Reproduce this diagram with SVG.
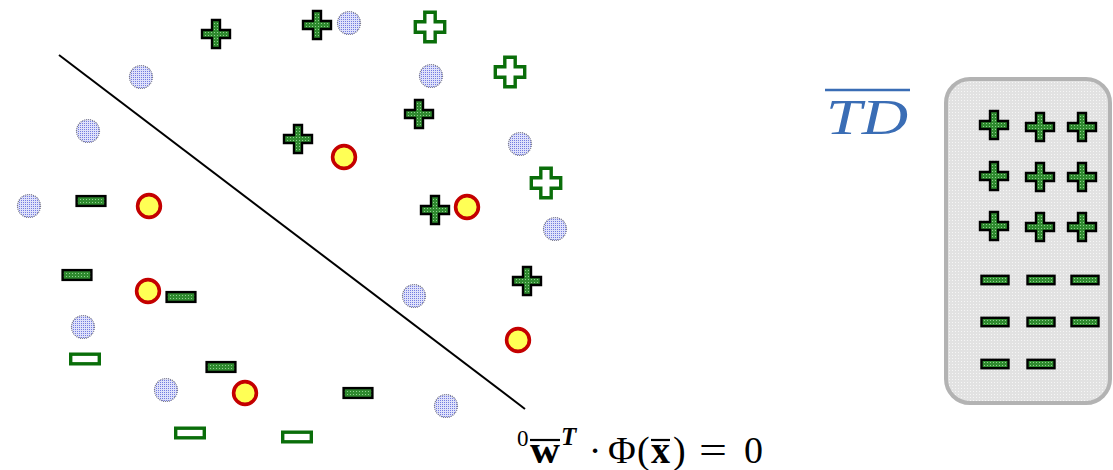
<svg xmlns="http://www.w3.org/2000/svg" width="1113" height="470" viewBox="0 0 1113 470">
  <defs>
    <!-- halftone textures -->
    <pattern id="greenDots" width="3" height="3" patternUnits="userSpaceOnUse">
      <rect width="3" height="3" fill="#2f8a2f"/>
      <rect x="1" y="1" width="1" height="1" fill="#8fd08f"/>
    </pattern>
    <pattern id="blueDots" width="2" height="2" patternUnits="userSpaceOnUse">
      <rect width="2" height="2" fill="#e0e2fa"/>
      <rect width="1" height="1" fill="#737ce0"/>
    </pattern>
    <pattern id="grayDots" width="3" height="3" patternUnits="userSpaceOnUse">
      <rect width="3" height="3" fill="#e2e2e2"/>
      <rect x="1" y="1" width="1" height="1" fill="#f6f6f6"/>
    </pattern>
    <path id="plusF" d="M-4,-14 h8 v10 h10 v8 h-10 v10 h-8 v-10 h-10 v-8 h10 z"/>
    <path id="plusH" d="M-5.2,-14.7 h10.4 v9.5 h9.5 v10.4 h-9.5 v9.5 h-10.4 v-9.5 h-9.5 v-10.4 h9.5 z"/>
    <rect id="minusF" x="-14.4" y="-4.9" width="28.8" height="9.8"/>
    <rect id="minusB" x="-13.5" y="-4.2" width="27" height="8.4"/>
    <rect id="minusH" x="-14.3" y="-4.8" width="28.6" height="9.6"/>
    <circle id="dot" r="11.5"/>
    <circle id="ring" r="11.4"/>
  </defs>
  <style>
    .pf { fill: url(#greenDots); stroke: #000; stroke-width: 2.4; stroke-linejoin: miter; }
    .ph { fill: #fff; stroke: #0a6e0a; stroke-width: 3.4; }
    .bc { fill: url(#blueDots); stroke: #7a7a8a; stroke-width: 1.2; stroke-dasharray: 1 1; }
    .yc { fill: #ffff55; stroke: #c40000; stroke-width: 3.6; }
    .eq { font-family: "Liberation Serif", "DejaVu Serif", serif; fill: #000; font-size: 38px; }
  </style>

  <!-- separating hyperplane -->
  <g id="connectors">
    <line x1="59" y1="55" x2="525" y2="409" stroke="#000" stroke-width="2"/>
  </g>

  <!-- filled positive samples -->
  <g id="pos-filled">
    <use href="#plusF" class="pf" x="216" y="34"/>
    <use href="#plusF" class="pf" x="317" y="25"/>
    <use href="#plusF" class="pf" x="419" y="114"/>
    <use href="#plusF" class="pf" x="298" y="139"/>
    <use href="#plusF" class="pf" x="435" y="210"/>
    <use href="#plusF" class="pf" x="527" y="281"/>
  </g>

  <!-- hollow positive samples -->
  <g id="pos-hollow">
    <use href="#plusH" class="ph" x="430" y="27"/>
    <use href="#plusH" class="ph" x="510" y="72"/>
    <use href="#plusH" class="ph" x="546" y="183"/>
  </g>

  <!-- unlabeled samples -->
  <g id="unlabeled">
    <use href="#dot" class="bc" x="349" y="23"/>
    <use href="#dot" class="bc" x="141" y="77"/>
    <use href="#dot" class="bc" x="88" y="131"/>
    <use href="#dot" class="bc" x="29" y="206"/>
    <use href="#dot" class="bc" x="431" y="76"/>
    <use href="#dot" class="bc" x="520" y="144"/>
    <use href="#dot" class="bc" x="555" y="229"/>
    <use href="#dot" class="bc" x="414" y="296"/>
    <use href="#dot" class="bc" x="83" y="327"/>
    <use href="#dot" class="bc" x="166" y="390"/>
    <use href="#dot" class="bc" x="446" y="406"/>
  </g>

  <!-- highlighted samples -->
  <g id="highlighted">
    <use href="#ring" class="yc" x="344" y="157"/>
    <use href="#ring" class="yc" x="149" y="206"/>
    <use href="#ring" class="yc" x="467" y="207"/>
    <use href="#ring" class="yc" x="148" y="291"/>
    <use href="#ring" class="yc" x="245" y="393"/>
    <use href="#ring" class="yc" x="518" y="340"/>
  </g>

  <!-- filled negative samples -->
  <g id="neg-filled">
    <use href="#minusF" class="pf" x="91" y="201"/>
    <use href="#minusF" class="pf" x="77" y="275"/>
    <use href="#minusF" class="pf" x="181" y="297"/>
    <use href="#minusF" class="pf" x="221" y="367"/>
    <use href="#minusF" class="pf" x="358" y="393"/>
  </g>

  <!-- hollow negative samples -->
  <g id="neg-hollow">
    <use href="#minusH" class="ph" x="85" y="359"/>
    <use href="#minusH" class="ph" x="190" y="433"/>
    <use href="#minusH" class="ph" x="297" y="437"/>
  </g>

  <!-- hyperplane equation, each symbol placed on its own -->
  <g id="equation" class="eq">
    <text x="517" y="446" font-size="23">0</text>
    <line x1="530" y1="440" x2="560" y2="440" stroke="#000" stroke-width="2.2"/>
    <text x="530" y="463" font-weight="bold" textLength="30" lengthAdjust="spacingAndGlyphs">w</text>
    <text x="561" y="445" font-size="25" font-weight="bold" font-style="italic">T</text>
    <text x="595" y="463" text-anchor="middle">·</text>
    <text x="608" y="463">Φ</text>
    <text x="637" y="463">(</text>
    <line x1="651" y1="440" x2="670" y2="440" stroke="#000" stroke-width="2.2"/>
    <text x="651" y="463" font-weight="bold">x</text>
    <text x="673" y="463">)</text>
    <text x="699" y="463" textLength="28" lengthAdjust="spacingAndGlyphs">=</text>
    <text x="744" y="463">0</text>
  </g>

  <!-- training data label -->
  <g id="td-label">
    <line x1="825" y1="90" x2="910" y2="90" stroke="#3a6db5" stroke-width="2.5"/>
    <text x="826" y="134" font-family="Liberation Serif, DejaVu Serif, serif" font-style="italic" font-size="50" fill="#3a6db5" textLength="82" lengthAdjust="spacingAndGlyphs">TD</text>
  </g>

  <!-- training data container -->
  <g id="td-box">
    <rect x="946" y="79" width="164" height="324" rx="24" fill="url(#grayDots)" stroke="#b3b3b3" stroke-width="4"/>
    <use href="#plusF" class="pf" x="994" y="125"/>
    <use href="#plusF" class="pf" x="1040" y="127"/>
    <use href="#plusF" class="pf" x="1082" y="127"/>
    <use href="#plusF" class="pf" x="994" y="176"/>
    <use href="#plusF" class="pf" x="1040" y="177"/>
    <use href="#plusF" class="pf" x="1082" y="177"/>
    <use href="#plusF" class="pf" x="994" y="226"/>
    <use href="#plusF" class="pf" x="1040" y="227"/>
    <use href="#plusF" class="pf" x="1082" y="227"/>
    <use href="#minusB" class="pf" x="995" y="280"/>
    <use href="#minusB" class="pf" x="1041" y="280"/>
    <use href="#minusB" class="pf" x="1085" y="280"/>
    <use href="#minusB" class="pf" x="995" y="322"/>
    <use href="#minusB" class="pf" x="1041" y="322"/>
    <use href="#minusB" class="pf" x="1085" y="322"/>
    <use href="#minusB" class="pf" x="995" y="364"/>
    <use href="#minusB" class="pf" x="1041" y="364"/>
  </g>
</svg>
